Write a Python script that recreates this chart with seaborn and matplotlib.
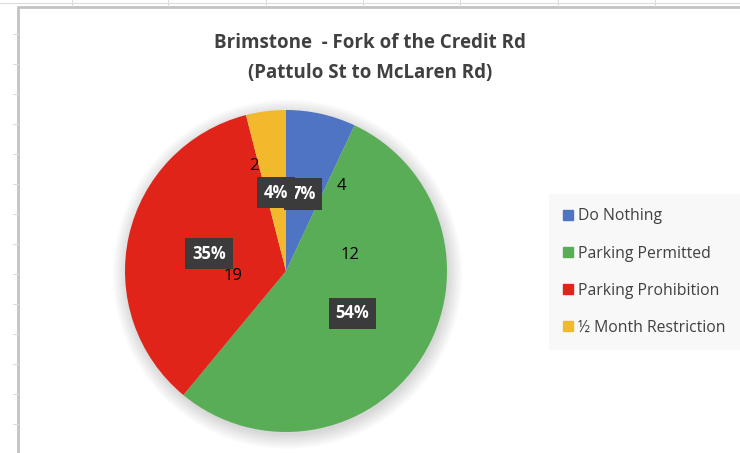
import numpy as np
import matplotlib
matplotlib.use("Agg")
import matplotlib.pyplot as plt
import seaborn as sns
from matplotlib.lines import Line2D
from matplotlib.patches import Circle

# data
categories = ["Do Nothing", "Parking Permitted", "Parking Prohibition", "½ Month Restriction"]
shares = [7, 54, 35, 4]          # percent labels shown on the chart
counts = [4, 12, 19, 2]          # value labels shown on the chart
colors = ["#4f74c4", "#5aad57", "#e02419", "#f3b92d"]

# where the count labels sit (angle in degrees, radius as fraction of pie radius)
count_pos = [(57, 0.63), (14, 0.41), (185, 0.33), (107, 0.68)]

sns.set_theme(style="white")
plt.rcParams["font.family"] = ["Open Sans", "DejaVu Sans"]

W, H = 740, 453
fig = plt.figure(figsize=(W / 100, H / 100), dpi=100)
fig.patch.set_facecolor("white")

# spreadsheet frame around the chart
def px(x, y):
    return x / W, 1 - y / H

for xs, ys, lw, c in [
    ([18, 18], [7, H], 2.0, "#c3c3c3"),
    ([18, W], [7, 7], 2.0, "#c3c3c3"),
    ([0, W], [3, 3], 0.8, "#dcdcdc"),
]:
    p0, p1 = px(xs[0], ys[0]), px(xs[1], ys[1])
    fig.add_artist(Line2D([p0[0], p1[0]], [p0[1], p1[1]], lw=lw, color=c))
for gx in [72, 168, 266, 363, 460, 558, 655]:
    p0, p1 = px(gx, 0), px(gx, 6)
    fig.add_artist(Line2D([p0[0], p1[0]], [p0[1], p1[1]], lw=0.8, color="#dcdcdc"))
for gy in range(34, H, 30):
    p0, p1 = px(13, gy), px(18, gy)
    fig.add_artist(Line2D([p0[0], p1[0]], [p0[1], p1[1]], lw=0.8, color="#dcdcdc"))

# title
fig.text(370 / W, 1 - 43 / H, "Brimstone  - Fork of the Credit Rd", ha="center", va="center",
         fontsize=13.5, fontweight="bold", color="#404040")
fig.text(370 / W, 1 - 73 / H, "(Pattulo St to McLaren Rd)", ha="center", va="center",
         fontsize=13.5, fontweight="bold", color="#404040")

# pie axes: center (286, 271), radius 161 px
cx, cy, r = 286, 271, 161
ax = fig.add_axes([(cx - 1.12 * r) / W, 1 - (cy + 1.12 * r) / H, 2.24 * r / W, 2.24 * r / H])
ax.set_aspect("equal")
ax.axis("off")

# soft shadow
for k in range(8):
    ax.add_patch(Circle((0.01, -0.02), 1.0 + 0.012 * k, color="black", alpha=0.018, lw=0, zorder=0))

wedges, _, autotexts = ax.pie(
    shares, colors=colors, startangle=90, counterclock=False, radius=1.0,
    autopct=lambda p: f"{p:.0f}%", pctdistance=0.49,
    wedgeprops=dict(linewidth=0), textprops=dict(color="white", fontsize=12, fontweight="bold"),
)
for t in autotexts:
    t.set_zorder(5)
    t.set_bbox(dict(boxstyle="square,pad=0.4", facecolor="#3b3b3b", edgecolor="none"))

for val, (ang, rad) in zip(counts, count_pos):
    a = np.deg2rad(ang)
    ax.text(rad * np.cos(a), rad * np.sin(a), str(val), ha="center", va="center",
            fontsize=12, color="black", zorder=4)

ax.set_xlim(-1.12, 1.12)
ax.set_ylim(-1.12, 1.12)

# legend
handles = [plt.Rectangle((0, 0), 1, 1, color=c) for c in colors]
leg = fig.legend(handles, categories, loc="upper left", bbox_to_anchor=(554 / W, 1 - 199 / H),
                 frameon=True, fontsize=11.3, handlelength=0.6, handleheight=0.6,
                 handletextpad=0.35, labelspacing=1.35, borderpad=0.6, borderaxespad=0,
                 labelcolor="#404040")
leg.get_frame().set_facecolor("#f7f7f7")
leg.get_frame().set_edgecolor("none")
leg.get_frame().set_boxstyle("square")

fig.savefig("out.png", dpi=100, facecolor="white")
